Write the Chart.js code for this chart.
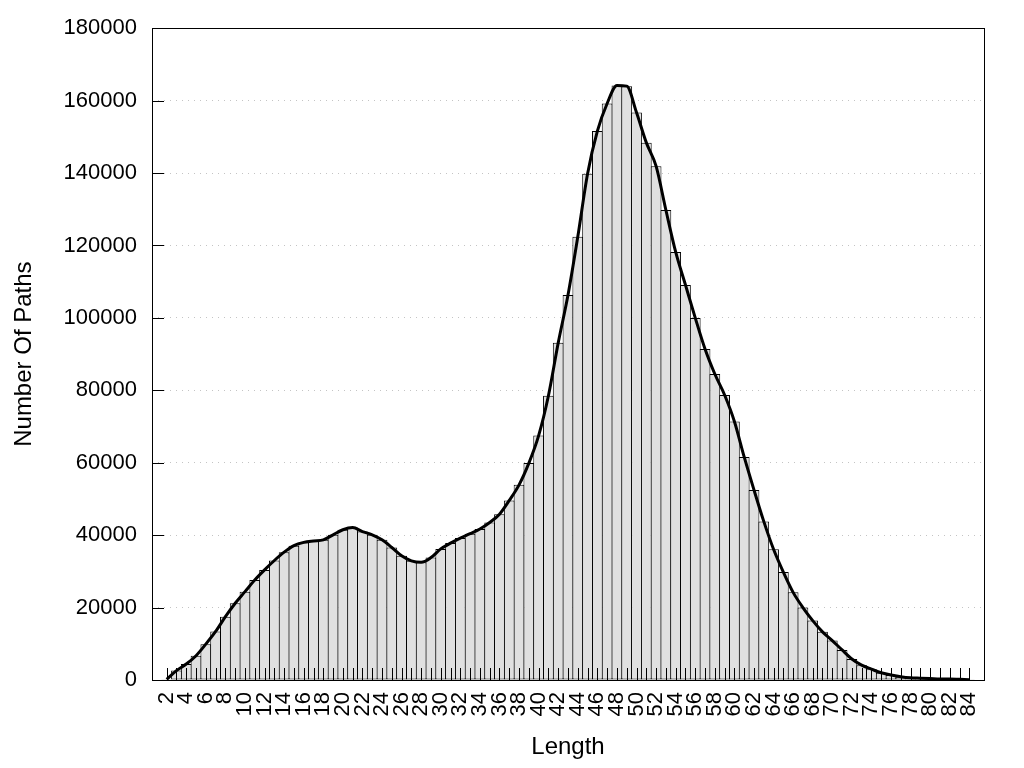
<!DOCTYPE html>
<html>
<head>
<meta charset="utf-8">
<title>Number Of Paths by Length</title>
<script src="https://cdn.jsdelivr.net/npm/chart.js@4/dist/chart.umd.min.js"></script>
<style>
  body { margin: 0; background: #fff; }
  #myChart { display: block; }
</style>
</head>
<body>
<canvas id="myChart" width="1024" height="768"></canvas>
<script>
// path lengths 2..84
let lengths = [
  2, 3, 4, 5, 6, 7, 8, 9, 10, 11, 12, 13, 14, 15, 16, 17, 18, 19, 20, 21,
  22, 23, 24, 25, 26, 27, 28, 29, 30, 31, 32, 33, 34, 35, 36, 37, 38, 39, 40, 41,
  42, 43, 44, 45, 46, 47, 48, 49, 50, 51, 52, 53, 54, 55, 56, 57, 58, 59, 60, 61,
  62, 63, 64, 65, 66, 67, 68, 69, 70, 71, 72, 73, 74, 75, 76, 77, 78, 79, 80, 81,
  82, 83, 84
];

// number of paths for each length
let pathCounts = [
  200, 2600, 4400, 6700, 9900, 13400, 17500, 21200, 24400, 27600,
  30400, 33000, 35300, 37100, 38000, 38400, 38700, 40100, 41500, 42100,
  41000, 40100, 38700, 36600, 34300, 32900, 32500, 33800, 36200, 37800,
  39200, 40400, 41700, 43500, 45800, 49600, 53900, 59900, 67500, 78500,
  93100, 106300, 122400, 139800, 151600, 159200, 164200, 164000, 156700, 148400,
  141900, 129800, 118200, 109100, 100000, 91400, 84500, 78700, 71400, 61600,
  52500, 43800, 36100, 29800, 24200, 20000, 16400, 13300, 10900, 8300,
  5800, 4100, 3000, 2000, 1400, 900, 600, 500, 400, 300,
  300, 200, 100
];

// axis ticks
let yTicks = [0, 20000, 40000, 60000, 80000, 100000, 120000, 140000, 160000, 180000];
let xMin = 1;
let xMax = 85;

let points = lengths.map((len, i) => ({ x: len, y: pathCounts[i] }));

// gnuplot style frame with inward tick marks
const framePlugin = {
  id: 'frame',
  afterDatasetsDraw(chart) {
    let { ctx, chartArea } = chart;
    let xs = chart.scales.x;
    let ys = chart.scales.y;
    ctx.save();
    ctx.strokeStyle = '#000';
    ctx.lineWidth = 1;
    ctx.beginPath();
    ys.ticks.forEach(t => {
      let y = Math.round(ys.getPixelForValue(t.value)) + 0.5;
      ctx.moveTo(chartArea.left, y);
      ctx.lineTo(chartArea.left + 12, y);
    });
    xs.ticks.forEach(t => {
      if (t.value < lengths[0] || t.value > lengths[lengths.length - 1]) return;
      let x = Math.round(xs.getPixelForValue(t.value)) + 0.5;
      ctx.moveTo(x, chartArea.bottom);
      ctx.lineTo(x, chartArea.bottom - 12);
    });
    ctx.stroke();
    ctx.strokeRect(Math.round(chartArea.left) + 0.5, Math.round(chartArea.top) + 0.5,
      Math.round(chartArea.right - chartArea.left), Math.round(chartArea.bottom - chartArea.top));
    ctx.restore();
  }
};

let ctx = document.getElementById('myChart').getContext('2d');

let myChart = new Chart(ctx, {
  type: 'bar',
  data: {
    datasets: [
      {
        type: 'line',
        label: 'smooth',
        data: points,
        borderColor: '#000',
        borderWidth: 3,
        pointRadius: 0,
        fill: false,
        cubicInterpolationMode: 'monotone',
        order: 0
      },
      {
        label: 'paths',
        data: points,
        backgroundColor: '#e0e0e0',
        borderColor: '#000',
        borderWidth: 1,
        borderSkipped: false,
        barPercentage: 1.1,
        categoryPercentage: 1,
        order: 1
      }
    ]
  },
  options: {
    responsive: false,
    animation: false,
    devicePixelRatio: 1,
    layout: { padding: { top: 28, right: 40, left: 0, bottom: 0 } },
    plugins: {
      legend: { display: false },
      tooltip: { enabled: false }
    },
    scales: {
      x: {
        type: 'linear',
        min: xMin,
        max: xMax,
        afterFit(scale) { scale.height = 88; },
        grid: { display: false, drawTicks: false },
        border: { display: false },
        ticks: {
          stepSize: 1,
          autoSkip: false,
          maxTicksLimit: 200,
          minRotation: 90,
          maxRotation: 90,
          padding: 12,
          color: '#000',
          font: { family: 'Liberation Sans, Arial, sans-serif', size: 22 },
          callback: v => (v % 2 === 0 && v >= lengths[0] && v <= lengths[lengths.length - 1]) ? String(v) : ''
        },
        title: {
          display: true,
          text: 'Length',
          color: '#000',
          font: { family: 'Liberation Sans, Arial, sans-serif', size: 24 },
          padding: { top: 0, bottom: 6 }
        }
      },
      y: {
        min: yTicks[0],
        max: yTicks[yTicks.length - 1],
        afterFit(scale) { scale.width = 152; },
        afterBuildTicks(scale) { scale.ticks = yTicks.map(v => ({ value: v })); },
        grid: { color: '#c4c4c4', lineWidth: 1, drawTicks: false },
        border: { display: false, dash: [1, 5] },
        ticks: {
          padding: 15,
          color: '#000',
          font: { family: 'Liberation Sans, Arial, sans-serif', size: 22 },
          callback: v => String(v)
        },
        title: {
          display: true,
          text: 'Number Of Paths',
          color: '#000',
          font: { family: 'Liberation Sans, Arial, sans-serif', size: 24 },
          padding: { top: 10, bottom: 0 }
        }
      }
    }
  },
  plugins: [framePlugin]
});
</script>
</body>
</html>
